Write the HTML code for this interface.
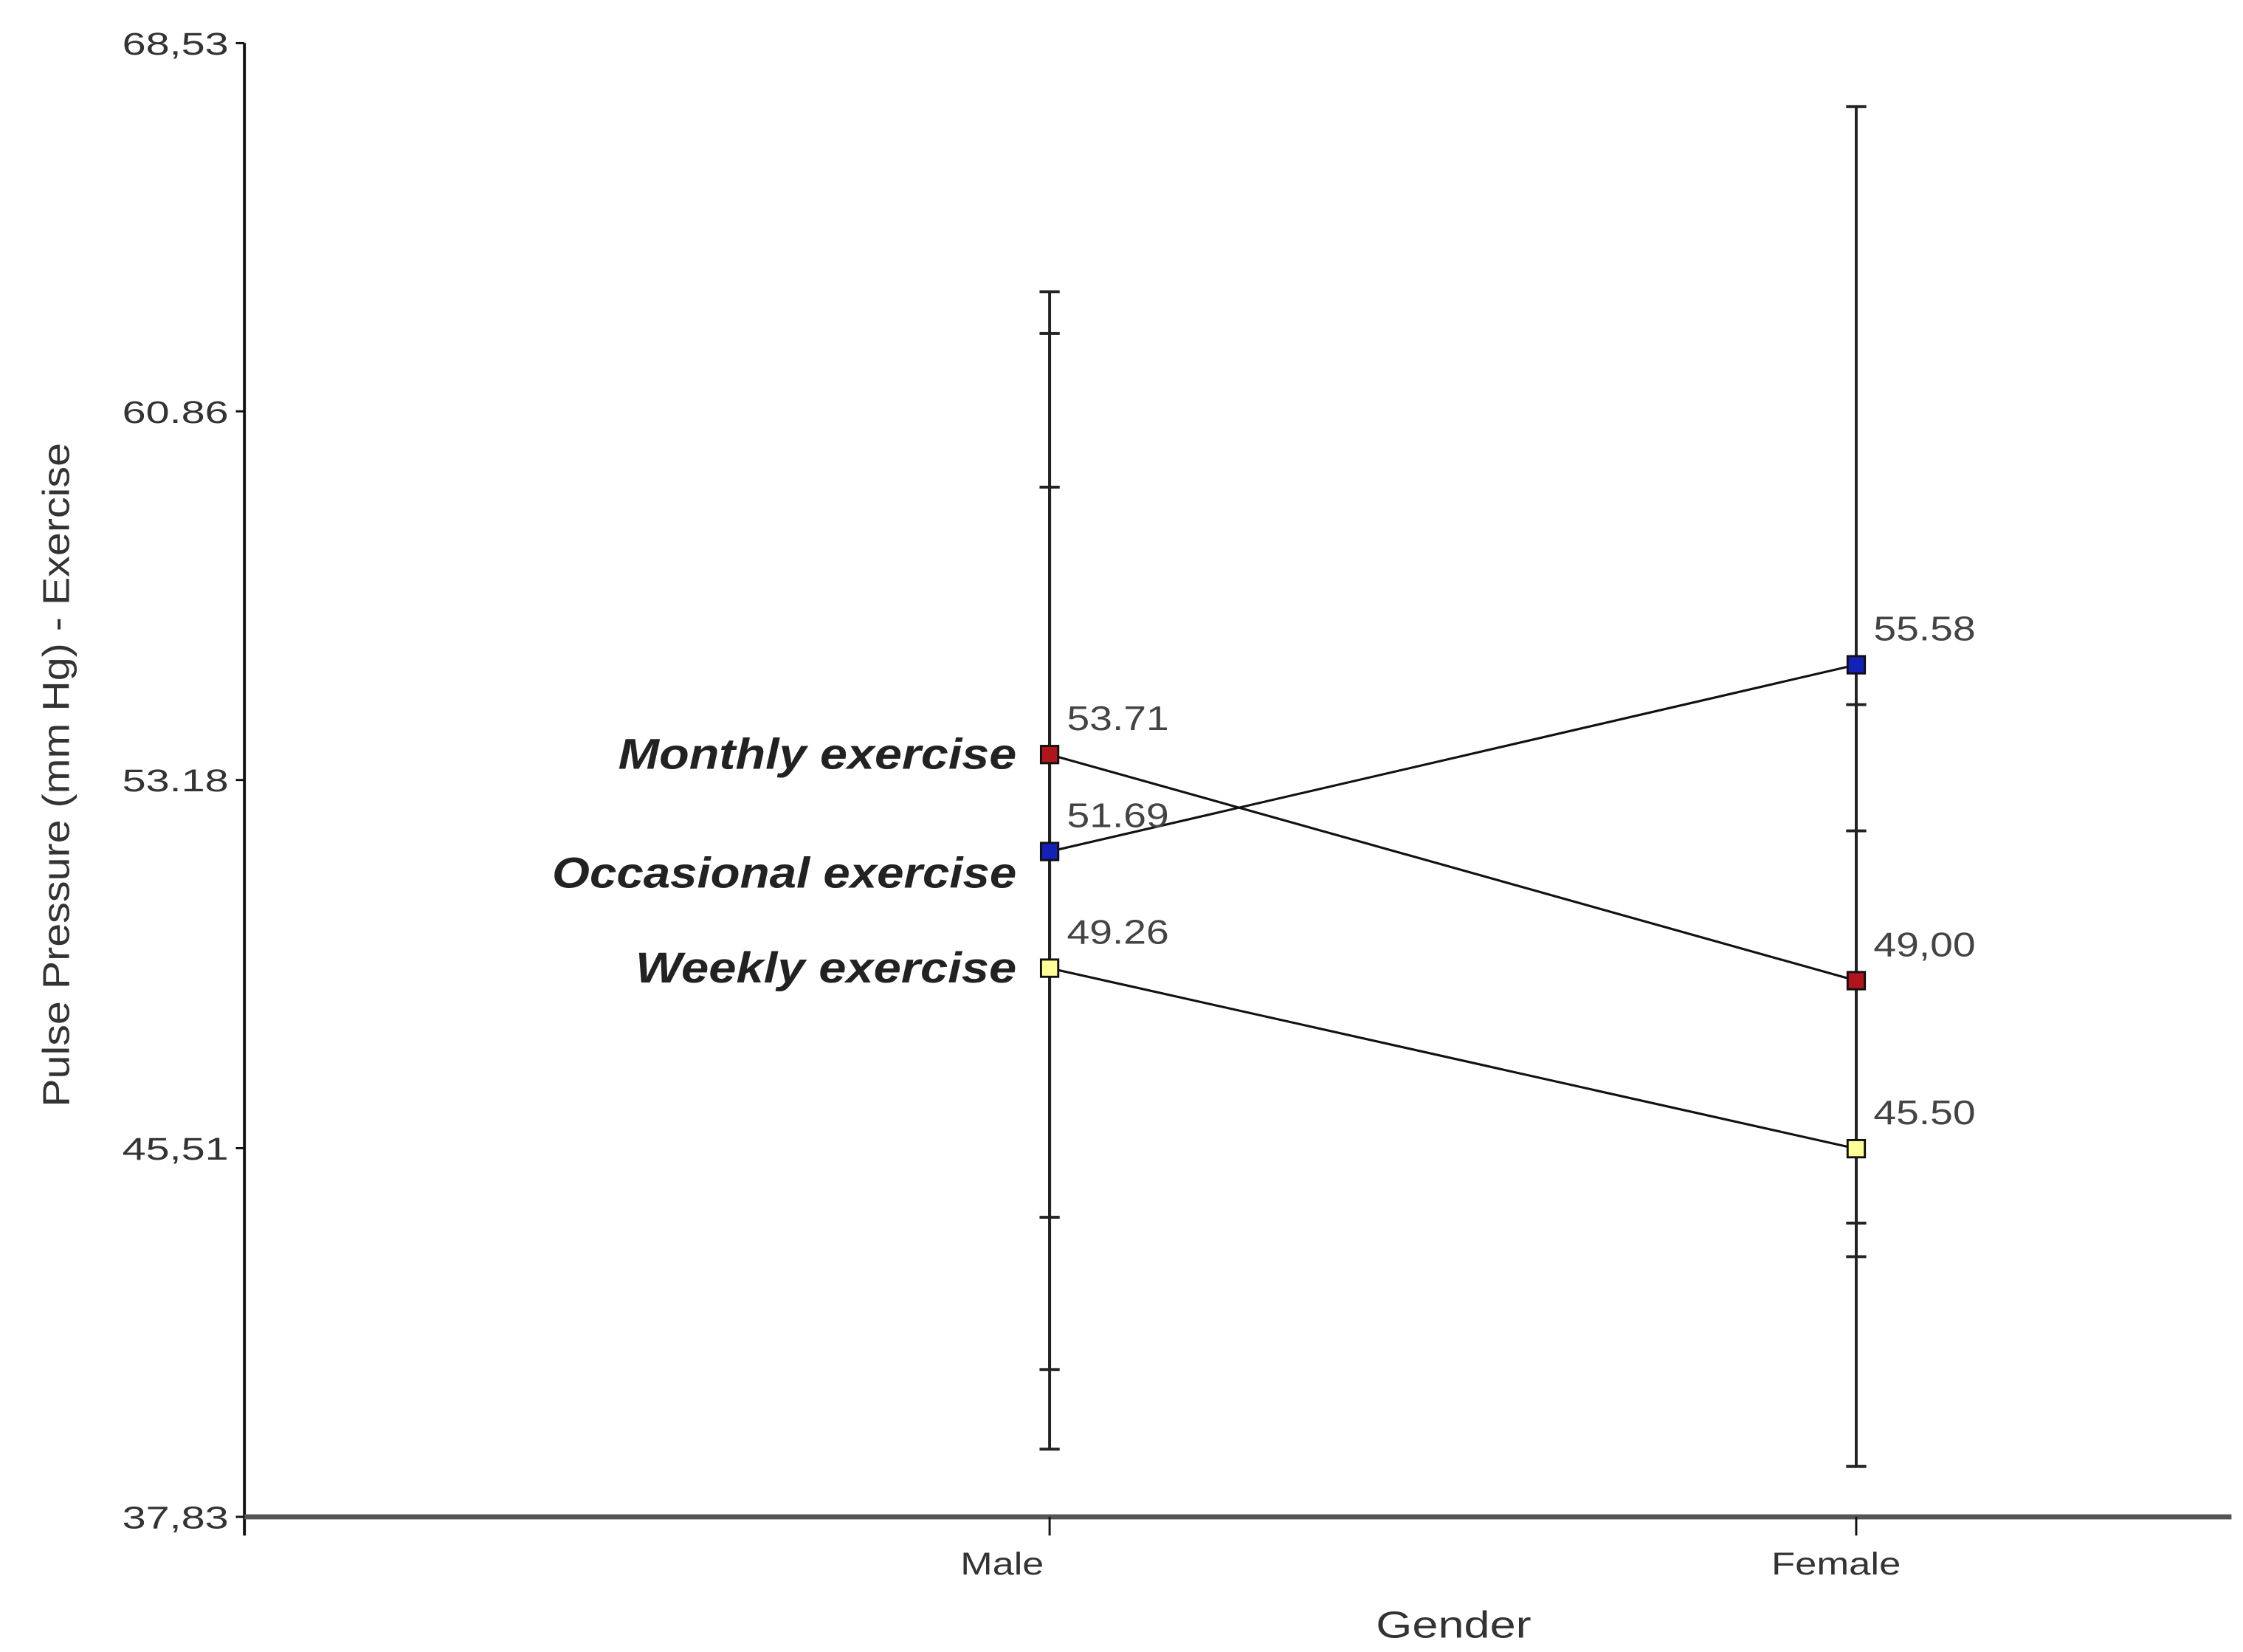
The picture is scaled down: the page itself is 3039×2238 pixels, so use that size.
<!DOCTYPE html>
<html><head><meta charset="utf-8"><style>
html,body{margin:0;padding:0;background:#fff;}
svg{display:block;}
text{font-family:"Liberation Sans",sans-serif;}
</style></head><body>
<svg id="chart" width="3039" height="2238" viewBox="0 0 1560 1149" preserveAspectRatio="none" xmlns="http://www.w3.org/2000/svg"></svg>
<script>
const categories = ["Male", "Female"];
const seriesNames = ["Monthly exercise", "Occasional exercise", "Weekly exercise"];
const monthly = [53.71, 49.00];
const occasional = [51.69, 55.58];
const weekly = [49.26, 45.50];
const monthlyErr = [9.64, 5.75];
const occasionalErr = [10.79, 11.63];
const weeklyErr = [10.02, 6.62];
const valueLabels = [["53.71","49,00"],["51.69","55.58"],["49.26","45.50"]];
const yTicks = [68.53, 60.86, 53.18, 45.51, 37.83];
const yTickLabels = ["68,53", "60.86", "53.18", "45,51", "37,83"];

const svgEl = document.getElementById('chart');
const NS = "http://www.w3.org/2000/svg";
const yMin = 37.83, yMax = 68.53, plotTop = 30, plotBottom = 1055;
function yScale(v){ return plotBottom - (v - yMin) / (yMax - yMin) * (plotBottom - plotTop); }
const xPos = {Male: 730, Female: 1291};
function xScale(i){ return xPos[categories[i]]; }
function mk(tag, attrs, name){
  const e = document.createElementNS(NS, tag);
  for (const k in attrs) e.setAttribute(k, attrs[k]);
  
  
  svgEl.appendChild(e); return e;
}
mk('line',{x1:170,y1:30,x2:170,y2:1068,stroke:'#111','stroke-width':2},'y-axis');
mk('line',{x1:170,y1:1055,x2:1552,y2:1055,stroke:'#555','stroke-width':3.5},'x-axis');
yTicks.forEach((t,i)=>{
  mk('line',{x1:164,y1:yScale(t),x2:170,y2:yScale(t),stroke:'#111','stroke-width':1.5},'y-tick');
  const tx = mk('text',{x:85,y:yScale(t)+8,'font-size':22,fill:'#333',textLength:74,lengthAdjust:'spacingAndGlyphs'},'y-tick-label');
  tx.textContent = yTickLabels[i];
});
categories.forEach((c,i)=>{
  mk('line',{x1:xScale(i),y1:1055,x2:xScale(i),y2:1068,stroke:'#111','stroke-width':1.5},'x-tick');
  const tx = mk('text',{x:xScale(i)-(i===0?33:14),y:1095,'text-anchor':'middle','font-size':22,fill:'#333',textLength:(i===0?58:90),lengthAdjust:'spacingAndGlyphs'},'x-tick-label');
  tx.textContent = c;
});
const yt = mk('text',{x:0,y:0,'text-anchor':'middle','font-size':26,fill:'#333',textLength:462,lengthAdjust:'spacingAndGlyphs',transform:'translate(48,539) rotate(-90)'},'y-axis-title');
yt.textContent = "Pulse Pressure (mm Hg) - Exercise";
const xt = mk('text',{x:1011,y:1139,'text-anchor':'middle','font-size':26,fill:'#333',textLength:108,lengthAdjust:'spacingAndGlyphs'},'x-axis-title');
xt.textContent = "Gender";

const series = [monthly, occasional, weekly];
const errs = [monthlyErr, occasionalErr, weeklyErr];
const colors = ['#b0141c','#1420b8','#ffff99'];
const labelLens = [277, 323, 265];
series.forEach((s,k)=>{
  s.forEach((v,i)=>{
    const hi = v + errs[k][i], lo = v - errs[k][i];
    mk('line',{x1:xScale(i),y1:yScale(hi),x2:xScale(i),y2:yScale(lo),stroke:'#222','stroke-width':2},'error-bar');
    mk('line',{x1:xScale(i)-7,y1:yScale(hi),x2:xScale(i)+7,y2:yScale(hi),stroke:'#222','stroke-width':2},'error-cap');
    mk('line',{x1:xScale(i)-7,y1:yScale(lo),x2:xScale(i)+7,y2:yScale(lo),stroke:'#222','stroke-width':2},'error-cap');
  });
});
series.forEach((s,k)=>{
  mk('line',{x1:xScale(0),y1:yScale(s[0]),x2:xScale(1),y2:yScale(s[1]),stroke:'#111','stroke-width':1.6},'series-line');
  s.forEach((v,i)=>{
    mk('rect',{x:xScale(i)-6,y:yScale(v)-6,width:12,height:12,fill:colors[k],stroke:'#111','stroke-width':1.5},'data-point');
    const lt = mk('text',{x:xScale(i)+12,y:yScale(v)-17,'font-size':24,fill:'#444',textLength:71,lengthAdjust:'spacingAndGlyphs'},'value-label');
    lt.textContent = valueLabels[k][i];
  });
  const sl = mk('text',{x:707-labelLens[k],y:yScale(s[0])+(k===1?25:10),'font-size':30,'font-weight':'bold','font-style':'italic',fill:'#222',textLength:labelLens[k],lengthAdjust:'spacingAndGlyphs'},'series-label');
  sl.textContent = seriesNames[k];
});
</script>
</body></html>
